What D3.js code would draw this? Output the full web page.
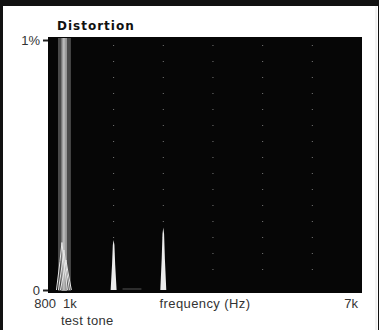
<!DOCTYPE html>
<html>
<head>
<meta charset="utf-8">
<script src="https://cdn.jsdelivr.net/npm/d3@7"></script>
<style>
  body { margin: 0; background: #fff; }
  svg { display: block; }
</style>
</head>
<body>
<div id="chart"></div>
<script>
// values
const freqDomain = [800, 7000];
const levelDomain = [0, 1];           // percent
const yTicks = [0, 1];
const yTickLabels = ["0", "1%"];
const xTicks = [800, 1000, 7000];
const xTickLabels = ["800", "1k", "7k"];
const toneFreq = 1000;
const toneBand = [880, 1140];          // smeared test tone column
const toneCore = [950, 1060];
const toneSpikes = [0.19, 0.16, 0.12]; // jagged residue at the foot of the tone
const harmonicFreqs = [2000, 3000];
const harmonicLevels = [0.20, 0.25];
const dottedFreqs = [2000, 3000, 4000, 5000, 6000];

const W = 379, H = 330;
const plot = {left: 48, right: 362, top: 37, bottom: 293};
const labelFont = "Liberation Sans, Arial, sans-serif";

const svg = d3.select("#chart").append("svg")
  .attr("width", W).attr("height", H);

// outer frame
svg.append("rect").attr("x", 0).attr("y", 0).attr("width", W).attr("height", H).attr("fill", "#111");
svg.append("rect").attr("x", 3).attr("y", 6).attr("width", W - 4).attr("height", H - 6).attr("fill", "#fff");
svg.append("line").attr("x1", 376).attr("x2", 376).attr("y1", 6).attr("y2", H)
  .attr("stroke", "#e4e4e4").attr("stroke-width", 1);

let x = d3.scaleLinear().domain(freqDomain).range([54, plot.right]);
let y = d3.scaleLinear().domain(levelDomain).range([290, 40]);

// plot background
svg.append("rect")
  .attr("x", plot.left).attr("y", plot.top)
  .attr("width", plot.right - plot.left).attr("height", plot.bottom - plot.top)
  .attr("fill", "#060606");

// faint dotted traces at harmonic positions
svg.append("g").selectAll("line")
  .data(dottedFreqs)
  .join("line")
    .attr("x1", d => x(d)).attr("x2", d => x(d))
    .attr("y1", y(0.98)).attr("y2", y(0.02))
    .attr("stroke", "#7a7a7a")
    .attr("stroke-width", 1)
    .attr("stroke-dasharray", "1,15");

// test tone column
svg.append("rect")
  .attr("x", x(toneBand[0])).attr("y", plot.top + 1)
  .attr("width", x(toneBand[1]) - x(toneBand[0])).attr("height", plot.bottom - plot.top - 3)
  .attr("fill", "#4a4a4a");
svg.append("rect")
  .attr("x", x(toneCore[0])).attr("y", plot.top + 1)
  .attr("width", x(toneCore[1]) - x(toneCore[0])).attr("height", plot.bottom - plot.top - 3)
  .attr("fill", "#9c9c9c");
svg.append("line")
  .attr("x1", x(toneFreq)).attr("x2", x(toneFreq))
  .attr("y1", plot.top + 1).attr("y2", y(0))
  .attr("stroke", "#cfcfcf").attr("stroke-width", 1);

// jagged residue at the tone's foot
const spikeLine = d3.line().x(d => x(d[0])).y(d => y(d[1]));
toneSpikes.forEach((lv, i) => {
  const off = (i - 1) * 40;
  const pts = [
    [toneFreq - 110 + off, 0], [toneFreq - 40 + off, lv * 0.6], [toneFreq + off, lv],
    [toneFreq + 40 + off, lv * 0.6], [toneFreq + 110 + off, 0]
  ];
  svg.append("path")
    .attr("d", spikeLine(pts))
    .attr("fill", "none")
    .attr("stroke", "#e6e6e6")
    .attr("stroke-width", 1);
});

// harmonic spikes
const spikeArea = d3.area().x(d => x(d[0])).y0(y(0)).y1(d => y(d[1]));
harmonicFreqs.forEach((f, i) => {
  const lv = harmonicLevels[i];
  const pts = [
    [f - 60, 0], [f - 32, lv * 0.5], [f - 16, lv * 0.9], [f, lv],
    [f + 16, lv * 0.9], [f + 32, lv * 0.5], [f + 60, 0]
  ];
  svg.append("path")
    .attr("d", spikeArea(pts))
    .attr("fill", "#ececec");
});

// small baseline smudge
svg.append("line")
  .attr("x1", x(2180)).attr("x2", x(2560))
  .attr("y1", y(0) - 1).attr("y2", y(0) - 1)
  .attr("stroke", "#555").attr("stroke-width", 1);

// y axis
const yAxis = d3.axisLeft(y)
  .tickValues(yTicks)
  .tickSize(5)
  .tickPadding(3)
  .tickFormat((d, i) => yTickLabels[i]);
const yg = svg.append("g")
  .attr("transform", `translate(${plot.left}, 0)`)
  .call(yAxis);
yg.select(".domain").remove();
yg.selectAll(".tick line").attr("stroke", "#222").attr("stroke-width", 2);
yg.selectAll(".tick text")
  .attr("font-family", labelFont)
  .attr("font-size", "13px")
  .attr("fill", "#333");

// x tick labels
const xAnchor = ["end", "start", "end"];
const xDx = [2, -1, -4];
svg.append("g").selectAll("text")
  .data(xTicks)
  .join("text")
    .attr("x", (d, i) => x(d) + xDx[i])
    .attr("y", 308)
    .attr("text-anchor", (d, i) => xAnchor[i])
    .attr("font-family", labelFont)
    .attr("font-size", "13px")
    .attr("fill", "#333")
    .text((d, i) => xTickLabels[i]);

svg.append("text")
  .attr("x", 205).attr("y", 308)
  .attr("text-anchor", "middle")
  .attr("font-family", labelFont)
  .attr("font-size", "13px")
  .attr("letter-spacing", "0.4px")
  .attr("fill", "#333")
  .text("frequency (Hz)");

svg.append("text")
  .attr("x", x(toneFreq) - 3).attr("y", 325)
  .attr("text-anchor", "start")
  .attr("font-family", labelFont)
  .attr("font-size", "13px")
  .attr("letter-spacing", "0.3px")
  .attr("fill", "#333")
  .text("test tone");

svg.append("text")
  .attr("x", 57).attr("y", 30)
  .attr("font-family", "DejaVu Sans, sans-serif")
  .attr("font-weight", "bold")
  .attr("font-size", "12px")
  .attr("letter-spacing", "1px")
  .attr("fill", "#111")
  .text("Distortion");
</script>
</body>
</html>
